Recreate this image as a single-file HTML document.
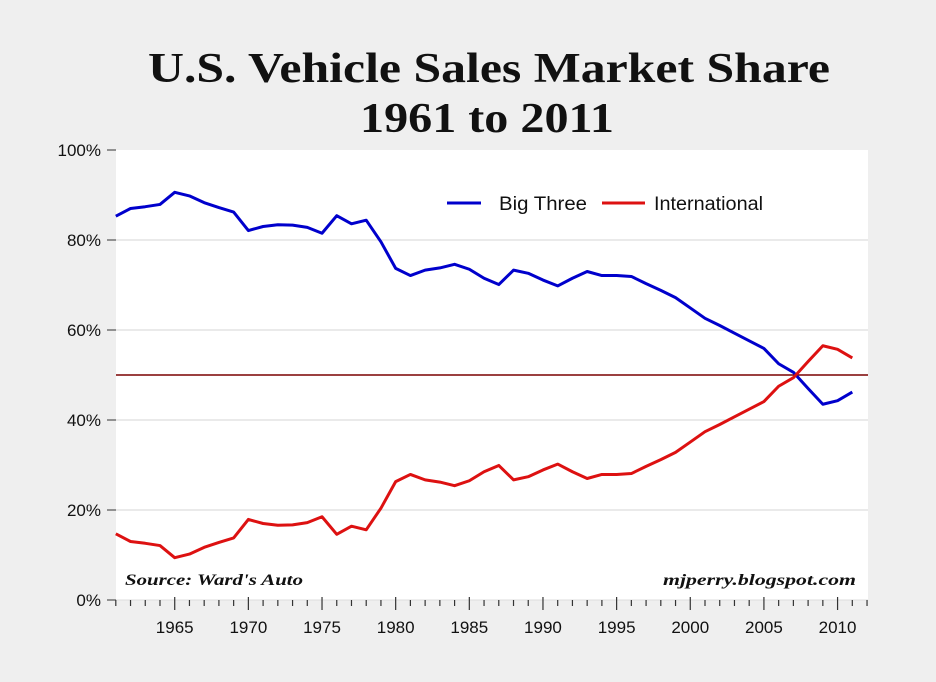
<!DOCTYPE html>
<html><head><meta charset="utf-8"><style>
body{margin:0;background:#efefef;}
svg{display:block;font-family:"Liberation Sans",sans-serif;}
</style></head><body>
<svg id="chart" width="936" height="682">
<rect width="936" height="682" fill="#efefef"/>
<text x="148" y="82" textLength="682" lengthAdjust="spacingAndGlyphs" font-family="Liberation Serif,serif" font-weight="bold" font-size="42" fill="#111">U.S. Vehicle Sales Market Share</text>
<text x="360" y="132" textLength="254" lengthAdjust="spacingAndGlyphs" font-family="Liberation Serif,serif" font-weight="bold" font-size="42" fill="#111">1961 to 2011</text>
<rect x="116" y="150" width="752" height="450" fill="#fff"/>
<g id="grid"></g><g id="axes"></g><g id="series"></g>
<line x1="447" y1="203" x2="481" y2="203" stroke="#0000cc" stroke-width="3"/>
<text x="499" y="210" textLength="88" lengthAdjust="spacingAndGlyphs" font-size="19" fill="#111">Big Three</text>
<line x1="602" y1="203" x2="645" y2="203" stroke="#dd1111" stroke-width="3"/>
<text x="654" y="210" textLength="109" lengthAdjust="spacingAndGlyphs" font-size="19" fill="#111">International</text>
<text x="125" y="585" textLength="178" lengthAdjust="spacingAndGlyphs" font-family="Liberation Serif,serif" font-style="italic" font-weight="bold" font-size="16" fill="#111">Source: Ward's Auto</text>
<text x="663" y="585" textLength="193" lengthAdjust="spacingAndGlyphs" font-family="Liberation Serif,serif" font-style="italic" font-weight="bold" font-size="16" fill="#111">mjperry.blogspot.com</text>
</svg>
<script>
const years=[];for(let y=1961;y<=2011;y++)years.push(y);
const bigThree=[85.3,87,87.4,87.9,90.6,89.8,88.3,87.2,86.2,82.1,83,83.4,83.3,82.8,81.5,85.4,83.6,84.4,79.6,73.7,72.1,73.3,73.8,74.6,73.5,71.5,70.1,73.3,72.6,71.1,69.8,71.5,73,72.1,72.1,71.9,70.3,68.8,67.2,64.9,62.6,61,59.3,57.6,55.9,52.5,50.6,47,43.5,44.3,46.2];
const international=[14.7,13,12.6,12.1,9.4,10.2,11.7,12.8,13.8,17.9,17,16.6,16.7,17.2,18.5,14.6,16.4,15.6,20.4,26.3,27.9,26.7,26.2,25.4,26.5,28.5,29.9,26.7,27.4,28.9,30.2,28.5,27,27.9,27.9,28.1,29.7,31.2,32.8,35.1,37.4,39,40.7,42.4,44.1,47.5,49.4,53,56.5,55.7,53.8];
const yTicks=[0,20,40,60,80,100];
const xLabels=[1965,1970,1975,1980,1985,1990,1995,2000,2005,2010];
const refLine=50;
const NS="http://www.w3.org/2000/svg";
const X=y=>115.8+(y-1961)*14.73;
const Y=v=>600-v*4.5;
function mk(tag,attrs,parent){const e=document.createElementNS(NS,tag);for(const k in attrs)e.setAttribute(k,attrs[k]);document.getElementById(parent).appendChild(e);return e;}
yTicks.forEach(t=>{
 if(t>0&&t<100){const g=mk('line',{x1:116,x2:868,y1:Y(t),y2:Y(t),stroke:'#d4d4d4','stroke-width':1},'grid');
 
 }
 const tk=mk('line',{x1:107,x2:116,y1:Y(t),y2:Y(t),stroke:'#333','stroke-width':1},'axes');
 
 
 const l=mk('text',{x:101,y:Y(t)+6,'text-anchor':'end','font-size':17,fill:'#111'},'axes');l.textContent=t+'%';
 
 
});
const ax=mk('line',{x1:116,x2:868,y1:600,y2:600,stroke:'#ddd','stroke-width':1},'axes');


for(let y=1961;y<=2012;y++){const major=y%5===0;
 const t=mk('line',{x1:X(y),x2:X(y),y1:major?597:600,y2:major?610:606,stroke:'#333','stroke-width':1.2},'axes');
 
 }
xLabels.forEach(y=>{const l=mk('text',{x:X(y),y:633,'text-anchor':'middle','font-size':17,fill:'#111'},'axes');l.textContent=y;
 
 });
const r=mk('line',{x1:116,x2:868,y1:Y(refLine),y2:Y(refLine),stroke:'#7a0000','stroke-width':1.5},'series');


function line(data,color,name){const p=mk('polyline',{points:data.map((v,i)=>X(years[i])+','+Y(v)).join(' '),fill:'none',stroke:color,'stroke-width':3,'stroke-linejoin':'round'},'series');
 
 }
line(bigThree,'#0000cc','big-three-line');
line(international,'#dd1111','international-line');
</script>
</body></html>
